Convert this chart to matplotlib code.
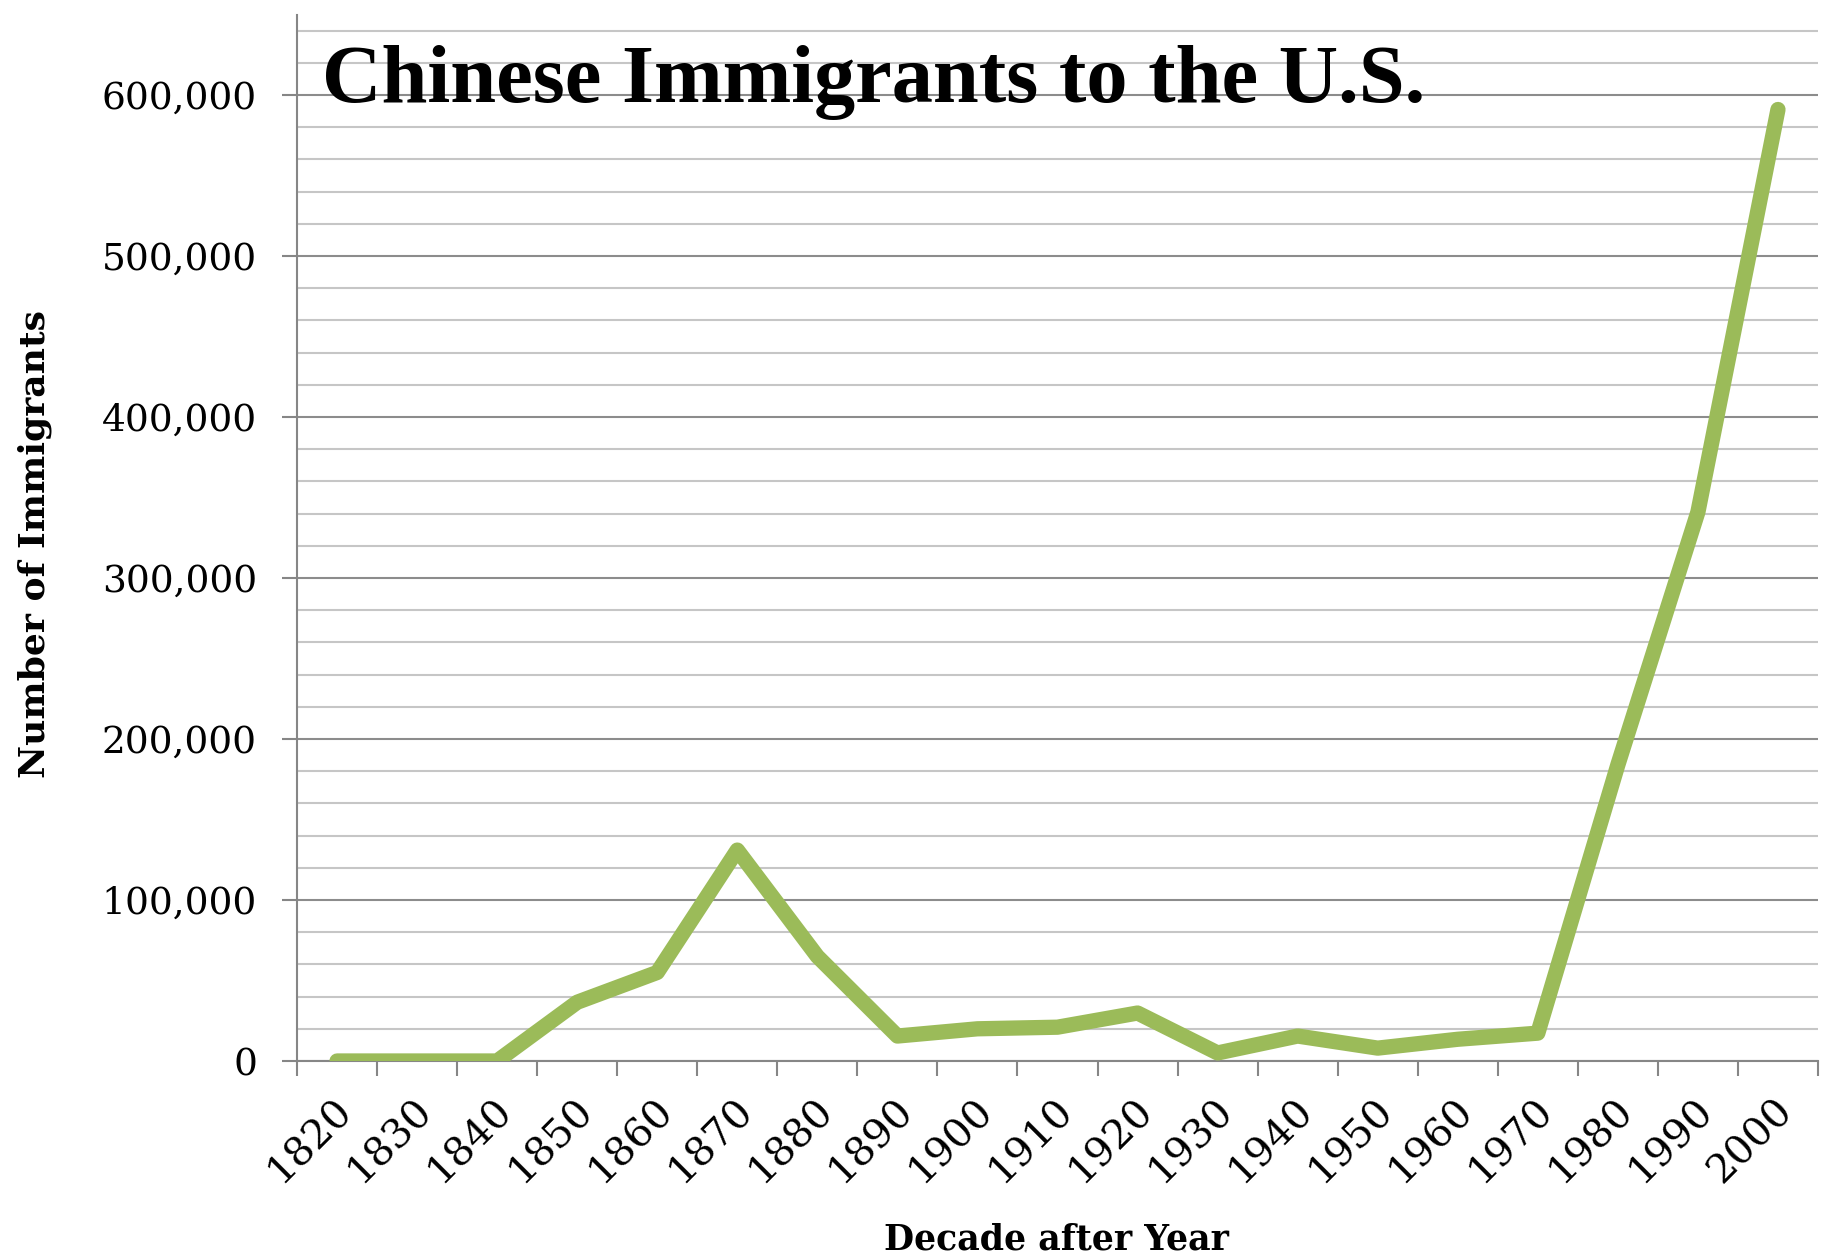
import matplotlib
matplotlib.use("Agg")
import matplotlib.pyplot as plt
from matplotlib.ticker import FixedLocator, FuncFormatter
from matplotlib.transforms import ScaledTranslation

# Decades and number of Chinese immigrants arriving in each
decades = ["1820", "1830", "1840", "1850", "1860", "1870", "1880", "1890", "1900",
           "1910", "1920", "1930", "1940", "1950", "1960", "1970", "1980", "1990", "2000"]
immigrants = [0, 0, 0, 36500, 55000, 131000, 65000, 15500, 20000,
              21000, 29800, 5000, 15500, 8000, 13500, 17300, 184000, 341000, 591000]

title_text = "Chinese Immigrants to the U.S."
x_label = "Decade after Year"
y_label = "Number of Immigrants"

W, H = 1825, 1257
fig = plt.figure(figsize=(W / 100, H / 100), dpi=100)
ax = fig.add_axes([297 / W, 1 - 1061 / H, (1818 - 297) / W, (1061 - 14.5) / H])

positions = list(range(len(decades)))
ax.plot(positions, immigrants, color="#9BBB59", lw=11, solid_capstyle="round",
        solid_joinstyle="round", zorder=5)

ax.set_xlim(-0.5, len(decades) - 0.5)
ax.set_ylim(0, 650000)

# y axis: labelled gridlines every 100k, lighter lines every 20k
ax.yaxis.set_major_locator(FixedLocator(range(0, 600001, 100000)))
ax.yaxis.set_minor_locator(FixedLocator(range(20000, 640001, 20000)))
ax.yaxis.set_major_formatter(FuncFormatter(lambda v, p: f"{v:,.0f}"))
ax.grid(which="minor", axis="y", color="#c6c6c6", lw=1.5, zorder=0)
ax.grid(which="major", axis="y", color="#8c8c8c", lw=1.5, zorder=1)

# x axis: tick marks between categories, labels at category centres
ax.xaxis.set_major_locator(FixedLocator([p - 0.5 for p in positions] + [len(decades) - 0.5]))
ax.xaxis.set_major_formatter(FuncFormatter(lambda v, p: ""))
ax.xaxis.set_minor_locator(FixedLocator(positions))
ax.set_xticklabels(decades, minor=True)

ax.tick_params(axis="both", which="major", length=15 * 0.72, width=1.5, color="#868686",
               direction="out")
ax.tick_params(axis="y", which="major", labelsize=27, pad=18, labelcolor="black")
ax.tick_params(axis="y", which="minor", length=0)
ax.tick_params(axis="x", which="minor", length=0, labelsize=29, pad=22)

for lbl in ax.get_yticklabels():
    lbl.set_fontfamily("DejaVu Serif")
for lbl in ax.get_xticklabels(minor=True):
    lbl.set_fontfamily("DejaVu Serif")
    lbl.set_rotation(45)
    lbl.set_rotation_mode("anchor")
    lbl.set_ha("right")
    lbl.set_va("top")
    lbl.set_transform(lbl.get_transform() + ScaledTranslation(-4 / 100, 0, fig.dpi_scale_trans))

for side in ("top", "right"):
    ax.spines[side].set_visible(False)
for side in ("left", "bottom"):
    ax.spines[side].set_color("#868686")
    ax.spines[side].set_linewidth(1.5)
    ax.spines[side].set_zorder(2)

fig.text(322 / W, 1 - 102 / H, title_text, fontsize=59.3, fontweight="bold",
         family="Liberation Serif", ha="left", va="baseline", zorder=10)
fig.text(1056 / W, 1 - 1249 / H, x_label, fontsize=25, fontweight="bold",
         family="DejaVu Serif", ha="center", va="baseline")
fig.text(35 / W, 1 - 544 / H, y_label, fontsize=26, fontweight="bold",
         family="DejaVu Serif", rotation=90, ha="center", va="center")

fig.savefig("out.png", dpi=100)
